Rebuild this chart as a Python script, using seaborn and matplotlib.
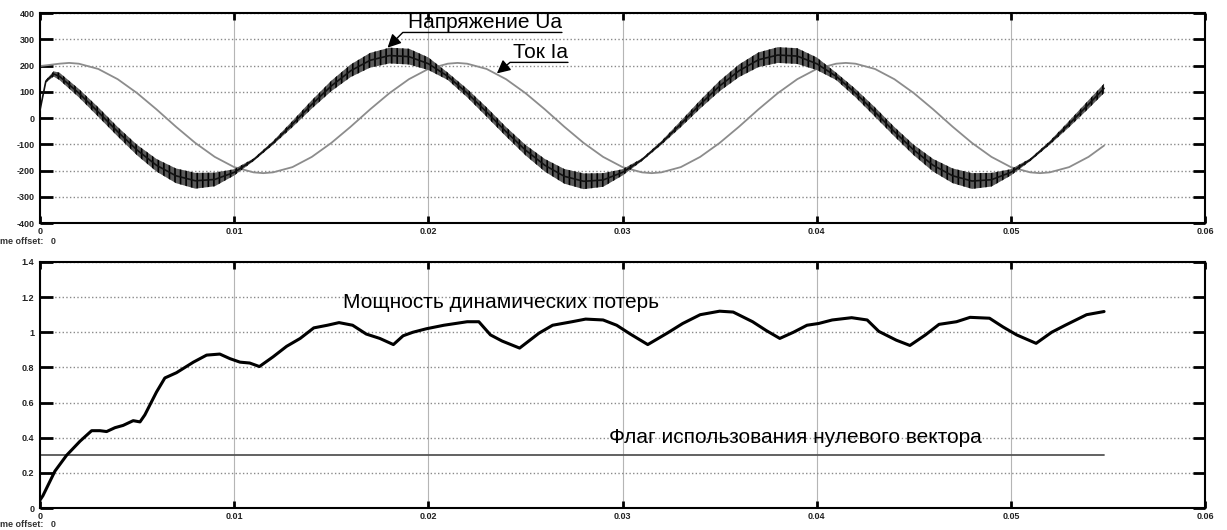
import numpy as np
import seaborn as sns
import matplotlib.pyplot as plt

# ---- data (time in ms) ----
UA_T_MS = [0, 0.3, 0.7] + list(range(1, 55)) + [54.8]
UA = [30, 140, 168,
      159, 95, 23, -52, -122, -180, -220, -239, -234, -207,
      -159, -95, -23, 52, 122, 180, 220, 238, 234, 207,
      159, 95, 23, -52, -122, -180, -222, -241, -236, -207,
      -159, -95, -23, 52, 122, 180, 222, 240, 236, 207,
      159, 95, 23, -52, -122, -180, -220, -240, -235, -207,
      -159, -95, -23, 52, 113]
# half-width of the PWM ripple band around Ua
UA_RIPPLE = [0, 5, 10,
             14, 16, 18, 18, 20, 24, 28, 30, 26, 12,
             5, 7, 12, 16, 20, 24, 28, 30, 30, 24,
             14, 16, 18, 18, 20, 24, 28, 30, 26, 12,
             5, 7, 12, 16, 20, 24, 28, 30, 30, 24,
             14, 16, 18, 18, 20, 24, 28, 30, 26, 12,
             5, 7, 12, 16, 18]

IA_T_MS = [0, 1, 1.5, 2, 3, 4, 5, 6, 7, 8, 9, 10, 11, 11.5, 12, 13, 14, 15, 16,
           17, 18, 19, 20, 21, 21.5, 22, 23, 24, 25, 26, 27, 28, 29, 30, 31, 31.5,
           32, 33, 34, 35, 36, 37, 38, 39, 40, 41, 41.5, 42, 43, 44, 45, 46, 47, 48,
           49, 50, 51, 51.5, 52, 53, 54, 54.8]
IA = [198, 207, 210, 207, 187, 148, 95, 33, -33, -95, -148, -187, -207, -210,
      -207, -187, -148, -95, -33, 33, 95, 148, 187, 207, 210,
      207, 187, 148, 95, 33, -33, -95, -148, -187, -207, -210,
      -207, -187, -148, -95, -33, 33, 95, 148, 187, 207, 210,
      207, 187, 148, 95, 33, -33, -95, -148, -187, -207, -210,
      -207, -187, -148, -105]

P_T_MS = [0, 0.15, 0.77, 1.37, 2.06, 2.66, 3.09, 3.43, 3.86, 4.28, 4.8, 5.15, 5.4,
          6.0, 6.43, 7.03, 7.9, 8.58, 9.26, 9.78, 10.3, 10.8, 11.3, 12.0, 12.7,
          13.4, 14.1, 14.8, 15.4, 16.1, 16.8, 17.5, 18.2, 18.7, 19.2, 19.9, 20.8,
          22.0, 22.6, 23.2, 23.8, 24.7, 25.7, 26.4, 27.4, 28.1, 29.0, 29.7, 30.4,
          31.3, 32.3, 33.1, 34.0, 35.0, 35.7, 36.7, 37.4, 38.1, 38.8, 39.5, 40.1,
          40.8, 41.8, 42.6, 43.2, 44.1, 44.8, 45.6, 46.3, 47.2, 47.9, 48.9, 49.6,
          50.3, 51.3, 52.1, 52.8, 53.9, 54.8]
P_LOSS = [0.045, 0.07, 0.21, 0.30, 0.38, 0.44, 0.44, 0.435, 0.457, 0.47, 0.497, 0.49, 0.53,
          0.66, 0.74, 0.77, 0.83, 0.87, 0.876, 0.85, 0.83, 0.825, 0.805, 0.86, 0.92,
          0.965, 1.025, 1.04, 1.055, 1.04, 0.99, 0.965, 0.93, 0.98, 1.0, 1.02, 1.04,
          1.06, 1.06, 0.985, 0.95, 0.91, 0.995, 1.04, 1.06, 1.075, 1.07, 1.04, 0.99,
          0.93, 0.995, 1.05, 1.10, 1.12, 1.115, 1.06, 1.01, 0.965, 1.0, 1.04, 1.05,
          1.07, 1.083, 1.07, 1.005, 0.955, 0.925, 0.985, 1.045, 1.06, 1.085, 1.08, 1.03,
          0.985, 0.937, 1.0, 1.04, 1.10, 1.118]

FLAG_T_MS = [0, 54.8]
FLAG = [0.3, 0.3]

X_TICKS = [0, 0.01, 0.02, 0.03, 0.04, 0.05, 0.06]
X_LABELS = ["0", "0.01", "0.02", "0.03", "0.04", "0.05", "0.06"]
Y1_TICKS = [-400, -300, -200, -100, 0, 100, 200, 300, 400]
Y1_LABELS = ["-400", "-300", "-200", "-100", "0", "100", "200", "300", "400"]
Y2_TICKS = [0, 0.2, 0.4, 0.6, 0.8, 1.0, 1.2, 1.4]
Y2_LABELS = ["0", "0.2", "0.4", "0.6", "0.8", "1", "1.2", "1.4"]

sns.set_style("white")
plt.rcParams["font.family"] = ["Liberation Sans", "DejaVu Sans"]
plt.rcParams["hatch.linewidth"] = 1.2

t_ua = np.array(UA_T_MS) / 1000
t_ia = np.array(IA_T_MS) / 1000
t_p = np.array(P_T_MS) / 1000
t_f = np.array(FLAG_T_MS) / 1000
ua = np.array(UA, dtype=float)
rip = np.array(UA_RIPPLE, dtype=float)

fig = plt.figure(figsize=(12.27, 5.30), dpi=100)
ax1 = fig.add_axes([0.0326, 0.5792, 0.9495, 0.3962])
ax2 = fig.add_axes([0.0326, 0.0415, 0.9495, 0.4642])


def style_axes(ax, yticks, ylabels, ylim):
    ax.set_xlim(0, 0.06)
    ax.set_ylim(*ylim)
    ax.set_xticks(X_TICKS)
    ax.set_xticklabels(X_LABELS)
    ax.set_yticks(yticks)
    ax.set_yticklabels(ylabels)
    ax.yaxis.grid(True, ls=":", color="#8a8a8a", lw=1.0)
    ax.xaxis.grid(True, ls="-", color="#b5b5b5", lw=0.8)
    ax.set_axisbelow(True)
    for s in ax.spines.values():
        s.set_color("black")
        s.set_linewidth(1.5)
    ax.tick_params(axis="y", direction="in", left=True, right=True,
                   length=9, width=2, labelsize=6.5, pad=4, colors="black")
    ax.tick_params(axis="x", direction="in", top=True, bottom=True,
                   length=5, width=2, labelsize=6.5, pad=3, colors="black")
    for lab in ax.get_xticklabels() + ax.get_yticklabels():
        lab.set_fontweight("bold")
        lab.set_color("#222222")
    ax.set_xlabel("")
    ax.set_ylabel("")


# top panel: voltage (with ripple band) and current
ax1.fill_between(t_ua, ua - rip, ua + rip, facecolor="#5a5a5a",
                 edgecolor="#000000", hatch="|||", linewidth=0, zorder=3)
sns.lineplot(x=t_ia, y=IA, ax=ax1, color="#8c8c8c", lw=1.3, zorder=2)
sns.lineplot(x=t_ua, y=UA, ax=ax1, color="#111111", lw=1.2, zorder=4)
style_axes(ax1, Y1_TICKS, Y1_LABELS, (-400, 400))

arrow_kw = dict(arrowstyle="-|>", color="black", lw=1.0, relpos=(1, 0),
                shrinkA=0, shrinkB=0, patchA=None, mutation_scale=20)
ax1.annotate("Напряжение Ua", xy=(0.0179, 268), xytext=(0.01895, 326),
             ha="left", va="bottom", fontsize=15, color="black",
             arrowprops=dict(connectionstyle="angle,angleA=0,angleB=45,rad=0",
                             **arrow_kw), zorder=6)
ax1.annotate("Ток Ia", xy=(0.02353, 170), xytext=(0.02436, 212),
             ha="left", va="bottom", fontsize=15, color="black",
             arrowprops=dict(connectionstyle="angle,angleA=0,angleB=40,rad=0",
                             **arrow_kw), zorder=6)

# bottom panel: losses and flag
sns.lineplot(x=t_f, y=FLAG, ax=ax2, color="#555555", lw=1.3, zorder=2)
sns.lineplot(x=t_p, y=P_LOSS, ax=ax2, color="black", lw=2.2, zorder=3)
style_axes(ax2, Y2_TICKS, Y2_LABELS, (0, 1.4))
ax2.text(0.0156, 1.167, "Мощность динамических потерь", fontsize=15,
         ha="left", va="center", color="black")
ax2.text(0.02929, 0.40, "Флаг использования нулевого вектора", fontsize=15,
         ha="left", va="center", color="black")

# cut-off scope footers
fig.text(0.0, 1 - 242 / 530, "me offset:   0", fontsize=6.5, fontweight="bold",
         ha="left", va="center", color="#333333")
fig.text(0.0, 0.002, "me offset:   0", fontsize=6.5, fontweight="bold",
         ha="left", va="bottom", color="#333333")

fig.savefig("out.png", dpi=100)
